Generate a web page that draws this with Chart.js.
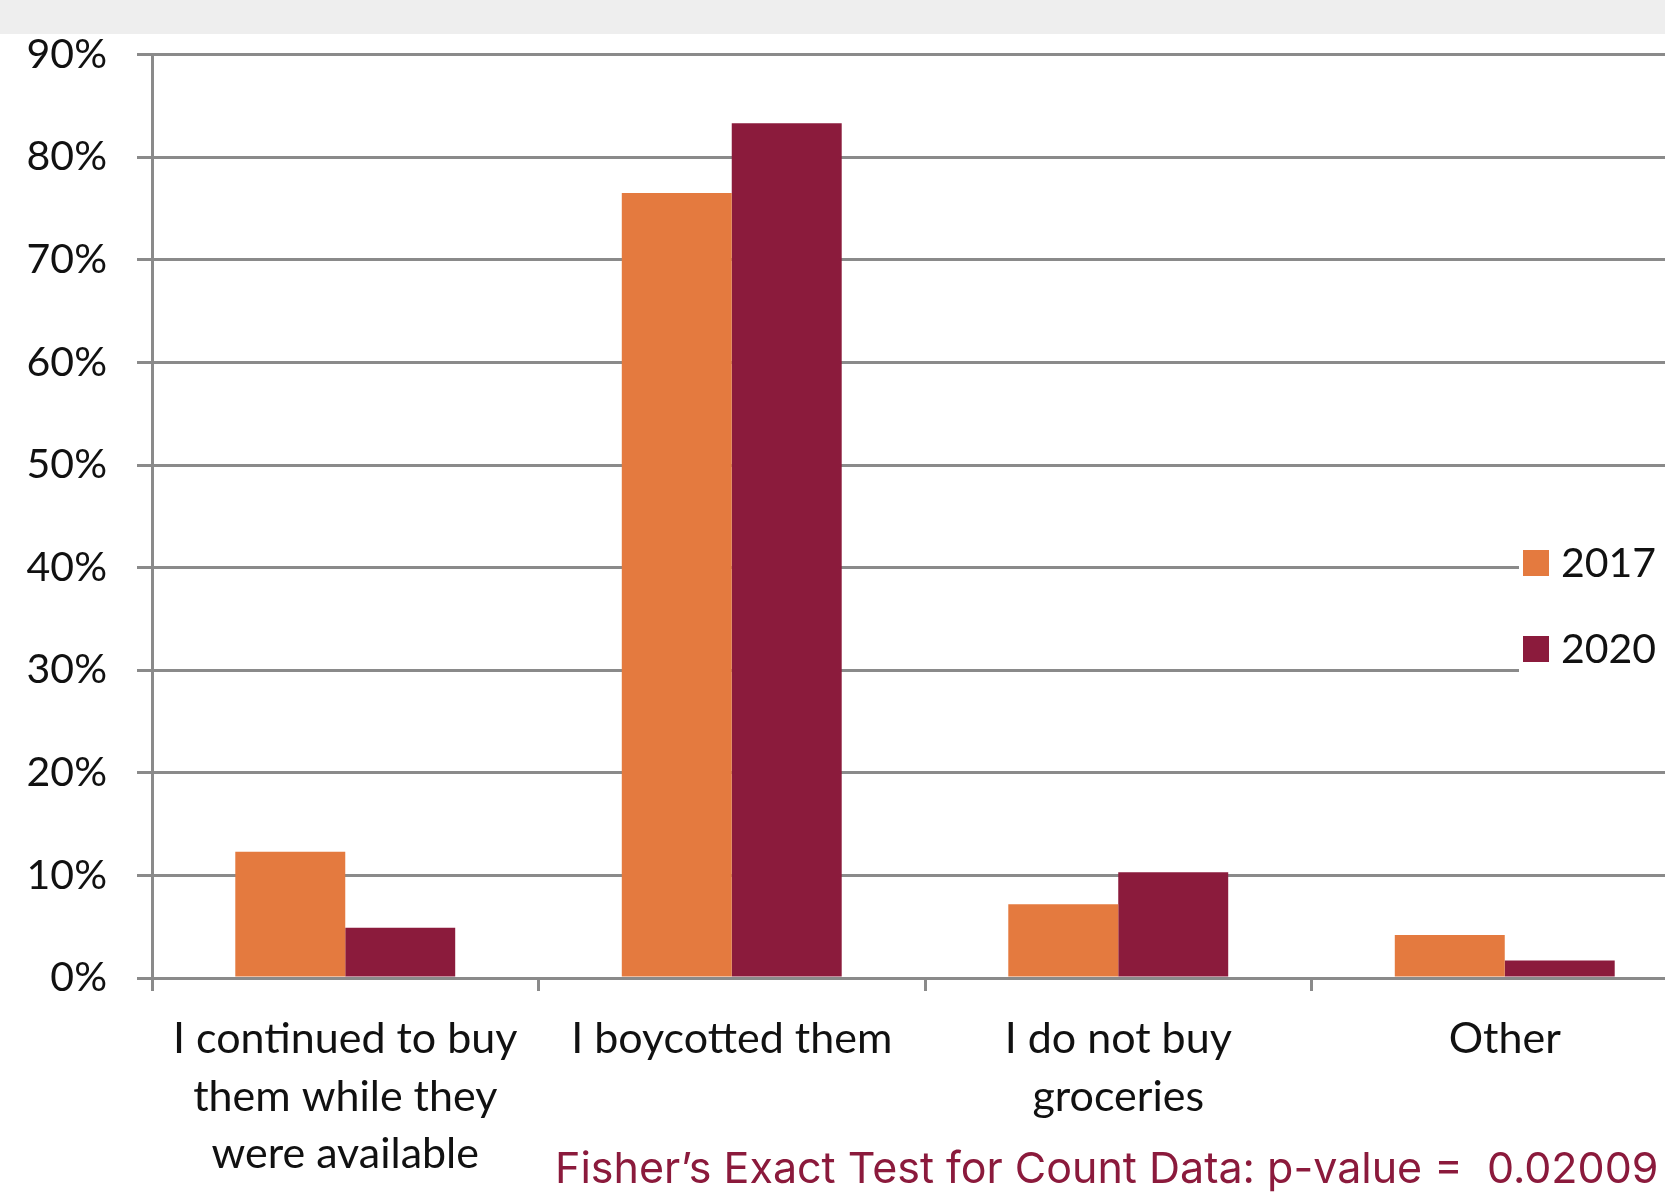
<!DOCTYPE html>
<html><head><meta charset="utf-8">
<script src="https://cdn.jsdelivr.net/npm/chart.js@4.4.0/dist/chart.umd.min.js"></script>
<style>
html,body{margin:0;padding:0;overflow:hidden;background:#fff;width:1665px;height:1200px;}
#topbar{position:absolute;left:0;top:0;width:1665px;height:34px;background:#eeeeee;z-index:2}
#wrap{position:absolute;left:0;top:0;width:1700px;height:1200px;}
#note{position:absolute;left:555px;top:1146px;font-family:Inter,sans-serif;font-size:43px;line-height:43px;color:#8b1a3c;white-space:pre;z-index:3}
</style></head>
<body>
<div id="topbar"></div>
<div id="wrap"><canvas id="c" width="1700" height="1200"></canvas></div>
<div id="note">Fisher’s Exact Test for Count Data: p-value =  0.02009</div>
<script>
const categories = [["I continued to buy","them while they","were available"],"I boycotted them",["I do not buy","groceries"],"Other"];
const seriesNames = ["2017","2020"];
const values2017 = [12.3, 76.5, 7.2, 4.2];
const values2020 = [4.9, 83.3, 10.3, 1.7];
const yTickValues = [0,10,20,30,40,50,60,70,80,90];
const colors = ["#E47A3F","#8B1B3C"];

const gridGray = "#8a8a8a";

const boxLegend = {
  id: 'boxLegend',
  afterDatasetsDraw(chart) {
    const ctx = chart.ctx;
    ctx.save();
    ctx.fillStyle = '#ffffff';
    ctx.fillRect(1519, 522, 200, 175);
    const rows = [563, 649];
    chart.data.datasets.forEach((ds, i) => {
      const cy = rows[i];
      ctx.fillStyle = ds.backgroundColor;
      ctx.fillRect(1523, cy - 13, 26, 26);
      ctx.fillStyle = '#111111';
      ctx.font = '41px Lato';
      ctx.textBaseline = 'middle';
      ctx.textAlign = 'left';
      ctx.fillText(ds.label, 1561, cy + 1);
    });
    ctx.restore();
  }
};

new Chart(document.getElementById('c'), {
  type: 'bar',
  data: {
    labels: categories,
    datasets: [
      { label: seriesNames[0], data: values2017, backgroundColor: colors[0], categoryPercentage: 0.569, barPercentage: 1.0 },
      { label: seriesNames[1], data: values2020, backgroundColor: colors[1], categoryPercentage: 0.569, barPercentage: 1.0 }
    ]
  },
  options: {
    responsive: false,
    animation: false,
    layout: { padding: { top: 52, right: 2, left: 0, bottom: 0 } },
    plugins: { legend: { display: false }, tooltip: { enabled: false } },
    scales: {
      x: {
        offset: true,
        grid: { display: true, drawOnChartArea: false, drawTicks: true, tickLength: 13, color: gridGray, lineWidth: 3 },
        border: { display: true, color: gridGray, width: 3 },
        ticks: { font: { family: 'Lato', size: 43, lineHeight: 1.33 }, color: '#111111', padding: 20, maxRotation: 0, autoSkip: false },
        afterFit(scale) { scale.height = 222; }
      },
      y: {
        min: 0, max: 90,
        afterBuildTicks(scale) { scale.ticks = yTickValues.map(v => ({ value: v })); },
        grid: { color: gridGray, lineWidth: 3, tickLength: 15, drawTicks: true },
        border: { display: true, color: gridGray, width: 3 },
        ticks: { font: { family: 'Lato', size: 41 }, color: '#111111', padding: 30, callback: v => v + '%' },
        afterFit(scale) { scale.width = 152; }
      }
    }
  },
  plugins: [boxLegend]
});
</script>
</body></html>
